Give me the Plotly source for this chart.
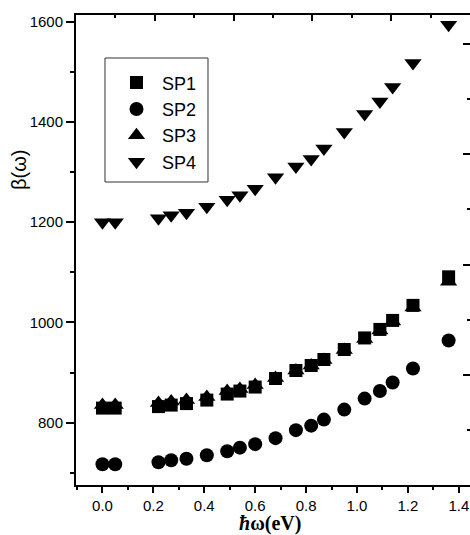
import plotly.graph_objects as go

energy = [0.0, 0.05, 0.22, 0.27, 0.33, 0.41, 0.49, 0.54, 0.60, 0.68, 0.76, 0.82, 0.87, 0.95, 1.03, 1.09, 1.14, 1.22, 1.36]
sp1 = [829, 829, 832, 835, 838, 845, 857, 863, 871, 888, 904, 914, 926, 946, 969, 986, 1004, 1034, 1091]
sp2 = [717, 717, 721, 725, 728, 735, 743, 750, 757, 769, 785, 794, 806, 826, 848, 863, 880, 908, 964]
sp3 = [835, 835, 839, 842, 845, 851, 863, 867, 875, 889, 904, 914, 925, 945, 967, 984, 1002, 1030, 1081]
sp4 = [1200, 1200, 1208, 1214, 1219, 1231, 1245, 1254, 1267, 1290, 1311, 1326, 1347, 1380, 1416, 1441, 1470, 1518, 1594]

series = [("SP1", sp1, "square", 13), ("SP2", sp2, "circle", 14),
          ("SP3", sp3, "triangle-up", 15), ("SP4", sp4, "triangle-down", 15)]

FONT = "Liberation Sans, Arial, sans-serif"

fig = go.Figure()
for name, vals, sym, sz in series:
    fig.add_trace(go.Scatter(
        x=energy, y=vals, mode="markers", name=name,
        marker=dict(symbol=sym, size=sz, color="black", line=dict(width=0)),
    ))

fig.update_layout(
    width=470, height=535,
    margin=dict(l=76, r=0, t=15, b=50),
    plot_bgcolor="white", paper_bgcolor="white",
    font=dict(family=FONT, size=15, color="black"),
    showlegend=True,
    legend=dict(
        x=0.0888, y=0.895, xanchor="left", yanchor="top",
        bgcolor="rgba(0,0,0,0)", borderwidth=0,
        font=dict(family=FONT, size=18, color="black"),
        itemwidth=41,
    ),
    xaxis=dict(
        range=[-0.104, 1.444], dtick=0.2, tick0=0, tickformat=".1f",
        ticks="outside", ticklen=6, tickwidth=1.5, tickcolor="black",
        showline=True, linewidth=2, linecolor="black", mirror=True,
        showgrid=False, zeroline=False,
        minor=dict(dtick=0.1, tick0=0, ticks="outside", ticklen=3, tickwidth=1.5, tickcolor="black"),
        tickfont=dict(family=FONT, size=15, color="black"),
    ),
    yaxis=dict(
        range=[675.5, 1613.6], dtick=200, tick0=0,
        ticks="outside", ticklen=8, tickwidth=1.5, tickcolor="black",
        showline=True, linewidth=2, linecolor="black", mirror=False,
        showgrid=False, zeroline=False,
        minor=dict(dtick=100, tick0=0, ticks="outside", ticklen=4, tickwidth=1.5, tickcolor="black"),
        tickfont=dict(family=FONT, size=15, color="black"),
    ),
    xaxis2=dict(
        overlaying="x", side="top", range=[-1, 4], dtick=1, tick0=0,
        ticks="inside", ticklen=6, tickwidth=1.5, tickcolor="black",
        showticklabels=False, showline=False, showgrid=False, zeroline=False,
        minor=dict(dtick=0.5, tick0=0, ticks="inside", ticklen=3, tickwidth=1.5, tickcolor="black"),
    ),
    yaxis2=dict(
        overlaying="y", side="right", range=[0, 4.263], dtick=1, tick0=0,
        ticks="inside", ticklen=7, tickwidth=1.5, tickcolor="black",
        showticklabels=False, showline=False, showgrid=False, zeroline=False,
        minor=dict(dtick=0.5, tick0=0, ticks="inside", ticklen=3, tickwidth=1.5, tickcolor="black"),
    ),
)

# invisible helper trace so the secondary axes get drawn
fig.add_trace(go.Scatter(x=[None], y=[None], xaxis="x2", yaxis="y2",
                         showlegend=False, hoverinfo="skip"))

# legend frame
fig.add_shape(type="rect", xref="paper", yref="paper",
              x0=0.0736, x1=0.335, y0=0.6447, y1=0.9085,
              line=dict(color="#333", width=1), fillcolor="rgba(0,0,0,0)")

fig.add_annotation(
    text="β(ω)", textangle=-90, xref="paper", yref="paper",
    x=-0.145, y=0.670, xanchor="center", yanchor="middle", showarrow=False,
    font=dict(family=FONT, size=20, color="black"),
)
fig.add_annotation(
    text="<b><i>ħ</i>ω(eV)</b>", xref="paper", yref="paper",
    x=0.492, y=-0.082, xanchor="center", yanchor="middle", showarrow=False,
    font=dict(family="Liberation Serif, Times New Roman, serif", size=20, color="black"),
)

fig.write_html("out.html")
